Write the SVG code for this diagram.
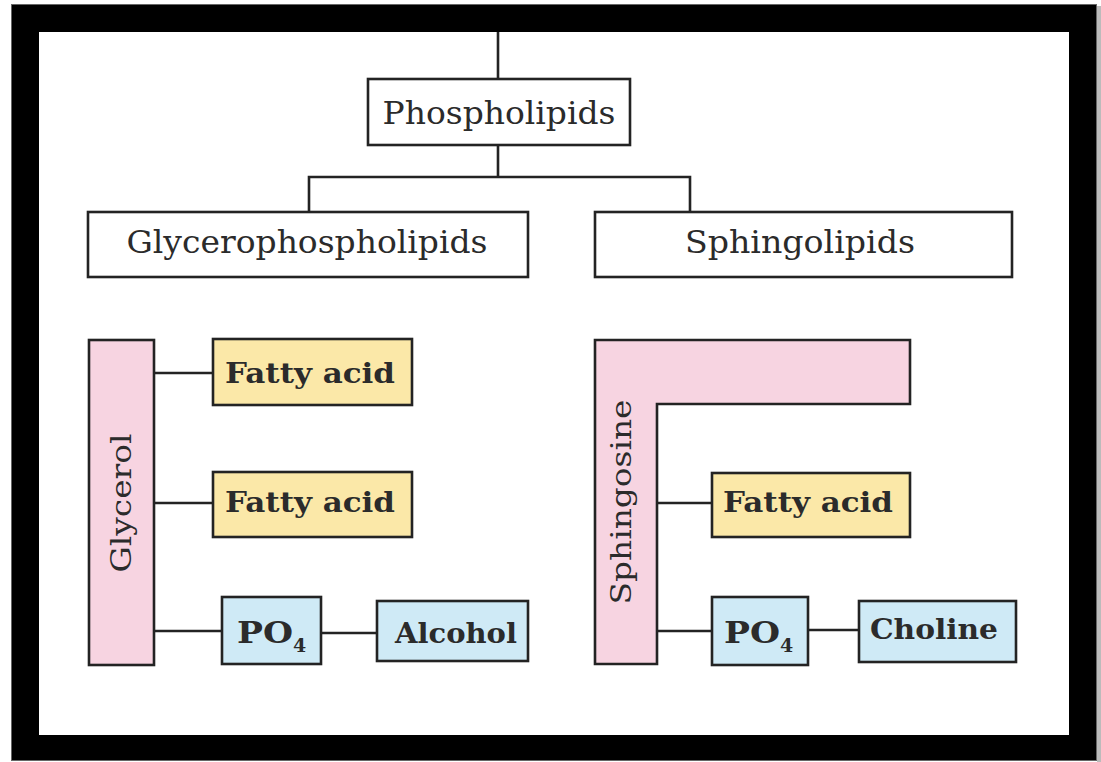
<svg xmlns="http://www.w3.org/2000/svg" width="1101" height="762" viewBox="0 0 1101 762">
<style>
.box{stroke:#232323;stroke-width:2.6;}
.plain{fill:#ffffff;}
.pink{fill:#f7d4e1;}
.yel{fill:#fbe8a8;}
.blue{fill:#cfeaf6;}
.t{font-family:"DejaVu Serif","Liberation Serif",serif;fill:#2b2b2b;}
.title{font-size:31px;}
.lbl{font-size:28px;font-weight:bold;}
.conn{stroke:#232323;stroke-width:2.6;fill:none;}
</style>
<rect x="11.5" y="4.5" width="1085" height="756" fill="#000" stroke="#666" stroke-width="1"/>
<rect x="1097" y="6" width="4" height="756" fill="#bbb"/>
<rect x="39" y="32" width="1030" height="703" fill="#fff"/>
<g id="connectors">
<path class="conn" d="M498,32 V79"/>
<path class="conn" d="M498,145 V177 M309,212 V177 H690 V212"/>
<path class="conn" d="M154,373 H213 M154,503 H213 M154,631 H222 M321,633 H377"/>
<path class="conn" d="M657,503 H712 M657,631 H712 M808,630 H859"/>
</g>
<g id="phospholipids">
<rect class="box plain" x="368" y="79" width="262" height="66"/>
<text class="t title" x="499" y="124" text-anchor="middle" textLength="233" lengthAdjust="spacingAndGlyphs">Phospholipids</text>
</g>
<g id="glycerophospholipids">
<rect class="box plain" x="88" y="212" width="440" height="65"/>
<text class="t title" x="307" y="253" text-anchor="middle" textLength="361" lengthAdjust="spacingAndGlyphs">Glycerophospholipids</text>
</g>
<g id="sphingolipids">
<rect class="box plain" x="595" y="212" width="417" height="65"/>
<text class="t title" x="800" y="253" text-anchor="middle" textLength="230" lengthAdjust="spacingAndGlyphs">Sphingolipids</text>
</g>
<g id="glycerol">
<rect class="box pink" x="89" y="340" width="65" height="325"/>
<text class="t" style="font-size:28px" transform="translate(131,503) rotate(-90)" text-anchor="middle" textLength="139" lengthAdjust="spacingAndGlyphs">Glycerol</text>
</g>
<g id="fatty-acid-1">
<rect class="box yel" x="213" y="339" width="199" height="66"/>
<text class="t lbl" x="310" y="383" text-anchor="middle" textLength="170" lengthAdjust="spacingAndGlyphs">Fatty acid</text>
</g>
<g id="fatty-acid-2">
<rect class="box yel" x="213" y="472" width="199" height="65"/>
<text class="t lbl" x="310" y="512" text-anchor="middle" textLength="170" lengthAdjust="spacingAndGlyphs">Fatty acid</text>
</g>
<g id="po4-left">
<rect class="box blue" x="222" y="597" width="99" height="67"/>
<text class="t" style="font-size:29px;font-weight:bold" x="237" y="643" textLength="56" lengthAdjust="spacingAndGlyphs">PO</text>
<text class="t" style="font-size:19px;font-weight:bold" x="293" y="652">4</text>
</g>
<g id="alcohol">
<rect class="box blue" x="377" y="601" width="151" height="60"/>
<text class="t" style="font-size:27px;font-weight:bold" x="395" y="643" textLength="122" lengthAdjust="spacingAndGlyphs">Alcohol</text>
</g>
<g id="sphingosine">
<path class="box pink" d="M595,340 H910 V404 H657 V664 H595 Z"/>
<text class="t" style="font-size:28px" transform="translate(631,502) rotate(-90)" text-anchor="middle" textLength="205" lengthAdjust="spacingAndGlyphs">Sphingosine</text>
</g>
<g id="fatty-acid-3">
<rect class="box yel" x="712" y="473" width="198" height="64"/>
<text class="t lbl" x="808" y="512" text-anchor="middle" textLength="170" lengthAdjust="spacingAndGlyphs">Fatty acid</text>
</g>
<g id="po4-right">
<rect class="box blue" x="712" y="597" width="96" height="68"/>
<text class="t" style="font-size:29px;font-weight:bold" x="724" y="643" textLength="56" lengthAdjust="spacingAndGlyphs">PO</text>
<text class="t" style="font-size:19px;font-weight:bold" x="780" y="652">4</text>
</g>
<g id="choline">
<rect class="box blue" x="859" y="601" width="157" height="61"/>
<text class="t" style="font-size:27px;font-weight:bold" x="870" y="639" textLength="128" lengthAdjust="spacingAndGlyphs">Choline</text>
</g>
</svg>
